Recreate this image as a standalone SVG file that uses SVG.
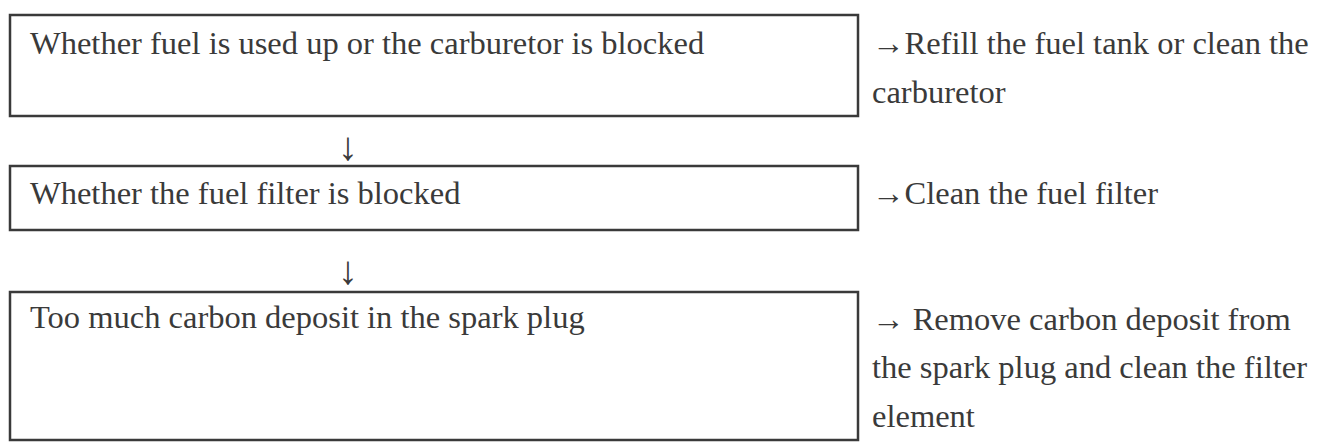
<svg xmlns="http://www.w3.org/2000/svg" width="1326" height="445" viewBox="0 0 1326 445">
<style>
.b{fill:#fff;stroke:#3a3a3a;stroke-width:2.5}
text{font-family:"Liberation Serif",serif;font-size:32.5px;fill:#3a3a3a}
.a{font-size:40px}
</style>
<rect width="1326" height="445" fill="#fff"/>
<g id="n1"><rect class="b" x="10" y="15" width="848" height="101"/><text x="30" y="54">Whether fuel is used up or the carburetor is blocked</text></g>
<g id="n2"><rect class="b" x="10" y="166" width="848" height="64"/><text x="30" y="204">Whether the fuel filter is blocked</text></g>
<g id="n3"><rect class="b" x="10" y="292" width="848" height="148"/><text x="30" y="328">Too much carbon deposit in the spark plug</text></g>
<g id="r1"><text x="872" y="54">→Refill the fuel tank or clean the</text><text x="872" y="103">carburetor</text></g>
<g id="r2"><text x="872" y="204">→Clean the fuel filter</text></g>
<g id="r3"><text x="872" y="330">→ Remove carbon deposit from</text><text x="872" y="378">the spark plug and clean the filter</text><text x="872" y="427">element</text></g>
<g id="connectors"><text class="a" x="338" y="160">↓</text><text class="a" x="338" y="284">↓</text></g>
</svg>
